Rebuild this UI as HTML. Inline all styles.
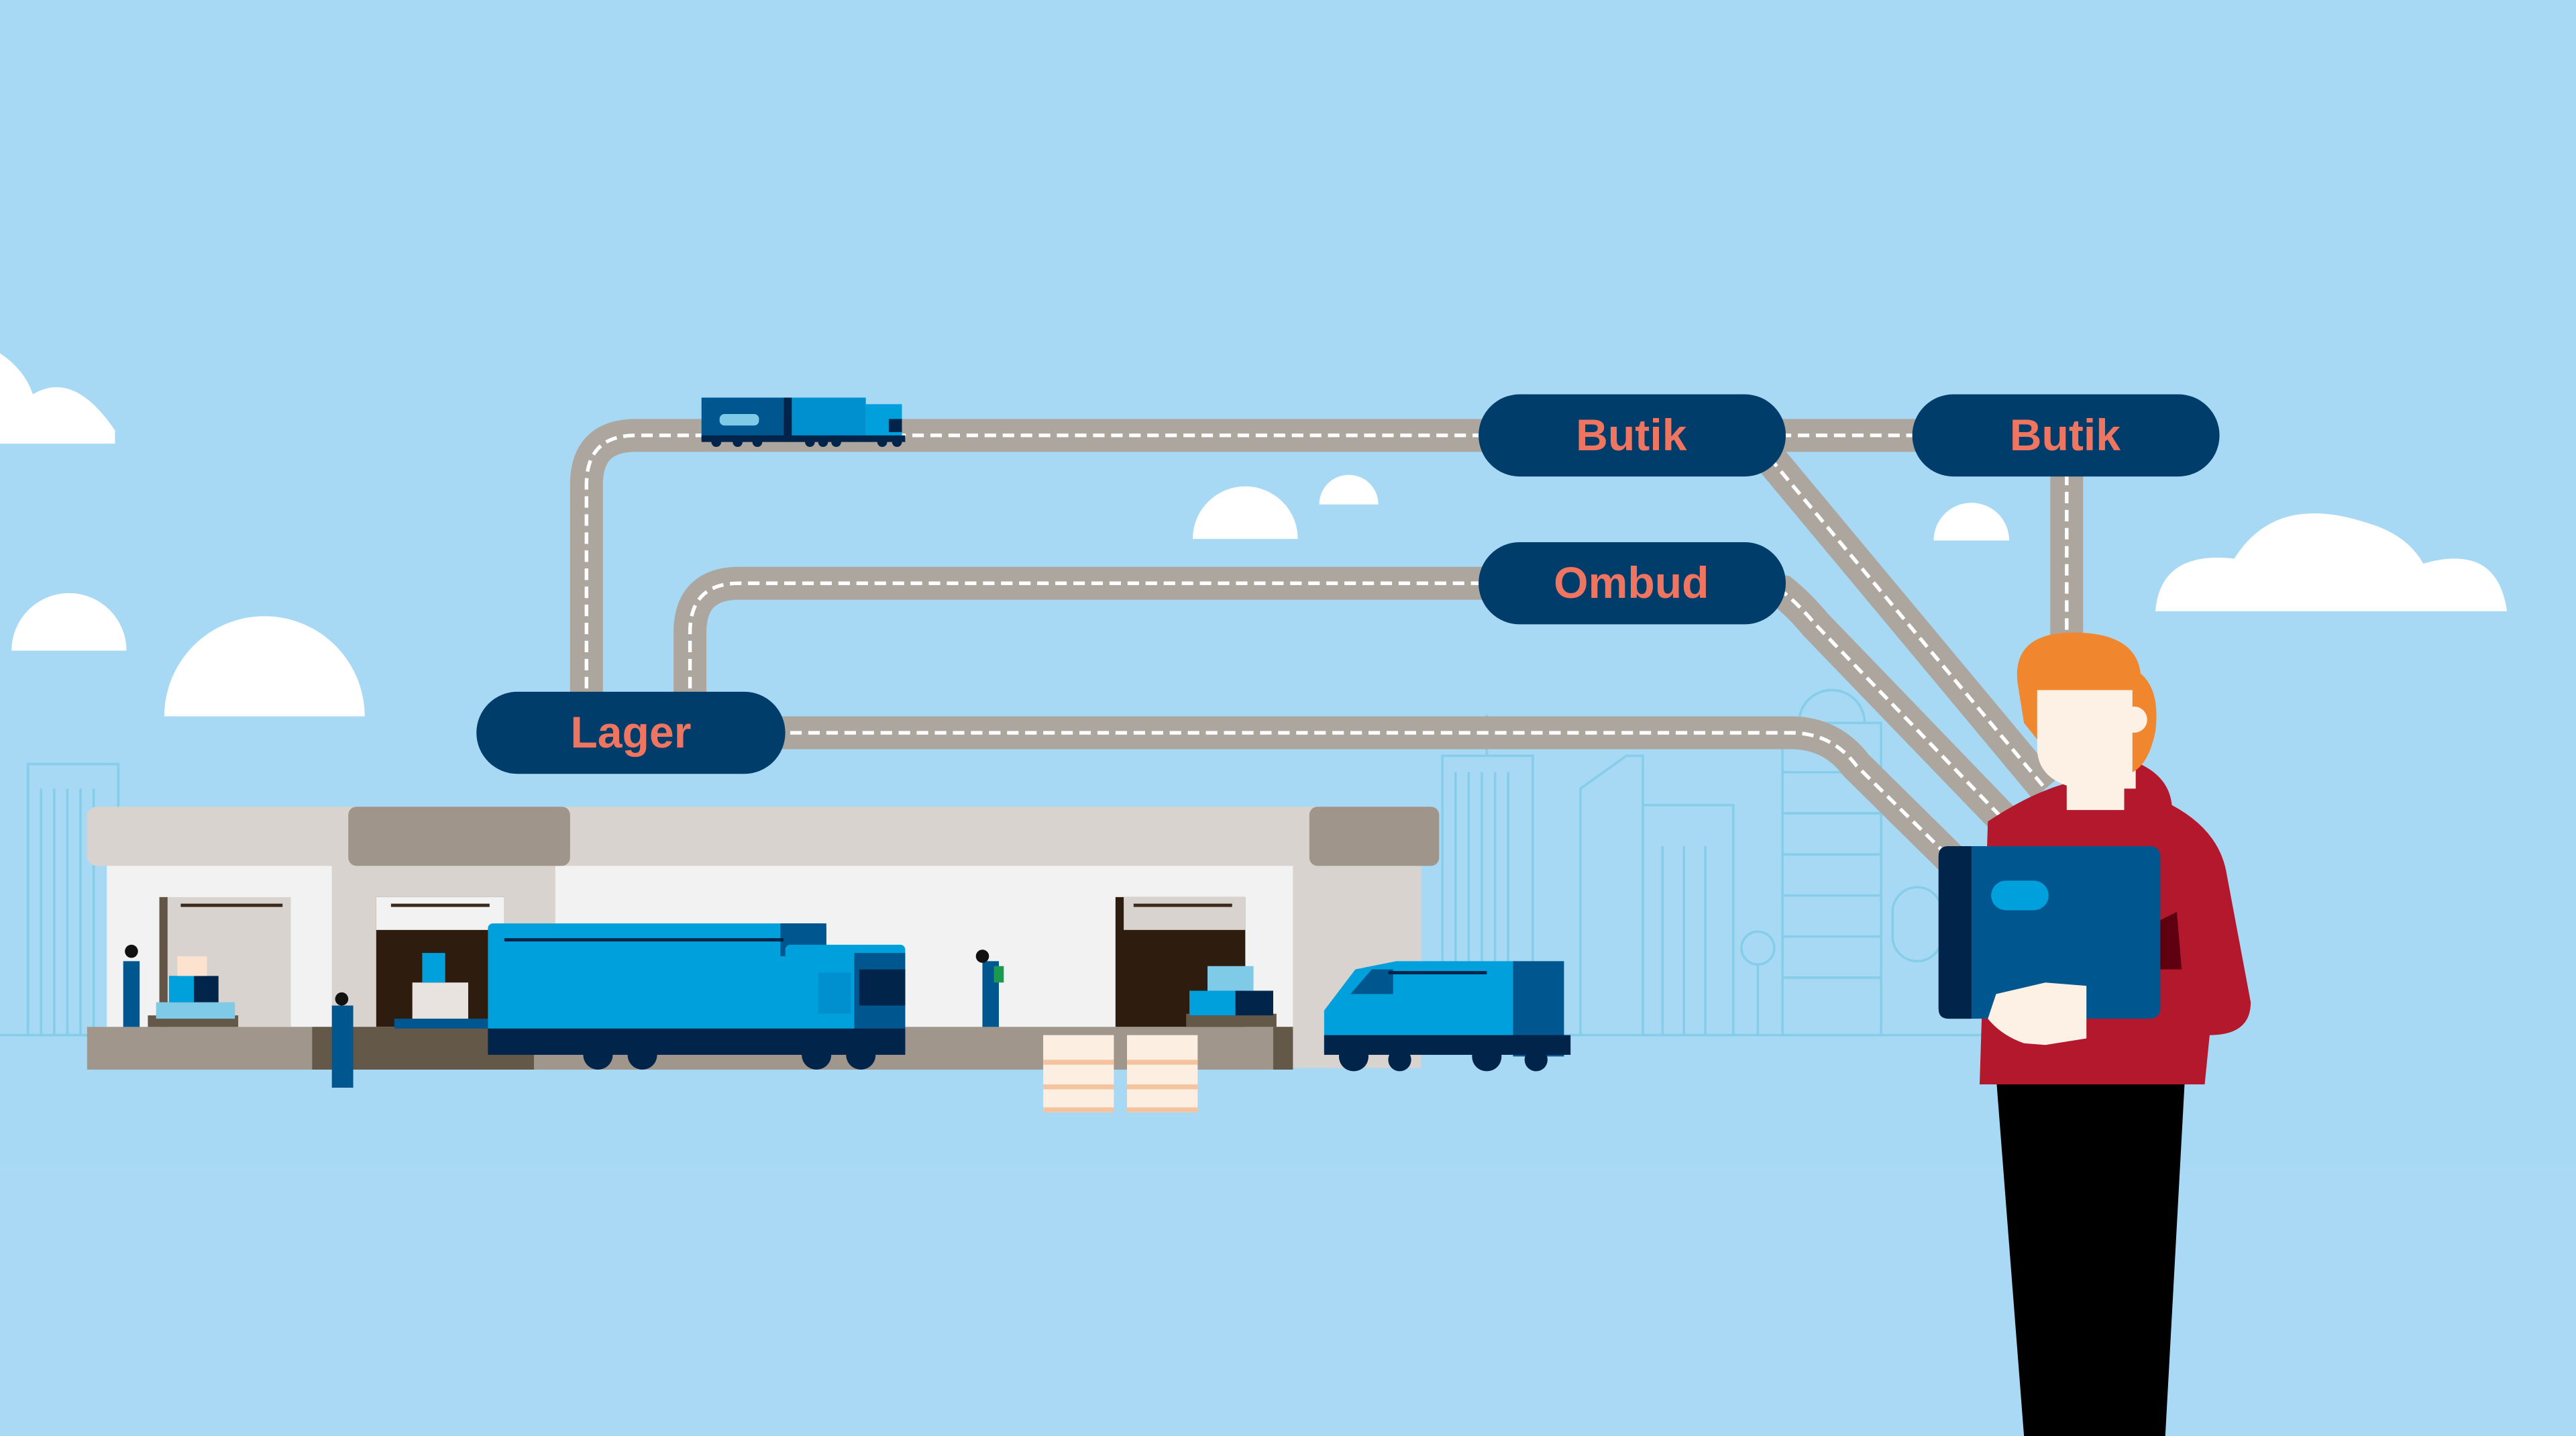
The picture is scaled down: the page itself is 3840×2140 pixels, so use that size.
<!DOCTYPE html>
<html><head><meta charset="utf-8"><style>html,body{margin:0;padding:0;background:#a7d9f4;width:3840px;height:2140px;overflow:hidden}svg{display:block}</style></head>
<body>
<svg width="3840" height="2140" viewBox="0 0 1568 874" preserveAspectRatio="none" xmlns="http://www.w3.org/2000/svg">
<rect width="1568" height="874" fill="#a7d9f4"/>
<rect y="710" width="1568" height="164" fill="#a9d9f5"/>
<!-- clouds -->
<g fill="#fff">
<path d="M0,270 L0,215 Q15,225 20,240 Q45,225 70,262 L70,270 Z"/>
<path d="M726,328 A32,32 0 0 1 790,328 Z"/>
<path d="M803,307 A18,18 0 0 1 839,307 Z"/>
<path d="M1177,329 A23,23 0 0 1 1223,329 Z"/>
<path d="M7,396 A35,35 0 0 1 77,396 Z"/>
<path d="M100,436 A61,61 0 0 1 222,436 Z"/>
<path d="M1312,372 Q1315,335 1360,340 Q1385,300 1440,318 Q1465,325 1475,343 Q1520,330 1526,372 Z"/>
</g>
<!-- skyline -->
<g fill="none" stroke="#7fcbe7" stroke-width="1.5" opacity="0.8">
<line x1="0" y1="630" x2="1250" y2="630"/>
<rect x="17" y="465" width="55" height="165"/>
<line x1="25" y1="480" x2="25" y2="630"/><line x1="33" y1="480" x2="33" y2="630"/><line x1="41" y1="480" x2="41" y2="630"/><line x1="49" y1="480" x2="49" y2="630"/><line x1="57" y1="480" x2="57" y2="630"/>
<rect x="878" y="460" width="55" height="170"/>
<line x1="886" y1="470" x2="886" y2="630"/><line x1="894" y1="470" x2="894" y2="630"/><line x1="902" y1="470" x2="902" y2="630"/><line x1="910" y1="470" x2="910" y2="630"/><line x1="918" y1="470" x2="918" y2="630"/>
<path d="M962,630 L962,480 L990,460 L1000,460 L1000,630"/>
<rect x="1000" y="490" width="55" height="140"/>
<line x1="1012" y1="515" x2="1012" y2="630"/><line x1="1025" y1="515" x2="1025" y2="630"/><line x1="1038" y1="515" x2="1038" y2="630"/>
<rect x="1085" y="440" width="60" height="190"/>
<line x1="1085" y1="470" x2="1145" y2="470"/><line x1="1085" y1="495" x2="1145" y2="495"/><line x1="1085" y1="520" x2="1145" y2="520"/><line x1="1085" y1="545" x2="1145" y2="545"/><line x1="1085" y1="570" x2="1145" y2="570"/><line x1="1085" y1="595" x2="1145" y2="595"/>
<path d="M1095,440 A20,20 0 0 1 1135,440"/>
<circle cx="1070" cy="577" r="10"/><line x1="1070" y1="587" x2="1070" y2="630"/>
<rect x="1152" y="540" width="30" height="45" rx="15"/>
<line x1="905" y1="435" x2="905" y2="460"/>
</g>
<!-- roads -->
<g fill="none" stroke="#aca69f" stroke-width="20">
<path d="M357,430 L357,295 Q357,265 387,265 L1258,265 L1258,400"/>
<path d="M420,430 L420,385 Q420,355 450,355 L950,355"/>
<path d="M470,446 L1090,446 Q1115,446 1130,466 L1205,540"/>
<path d="M1070,270 L1245,480"/>
<path d="M1060,355 L1085,360 Q1095,368 1105,380 L1240,520"/>
</g>
<g fill="none" stroke="#fff" stroke-width="2.2" stroke-dasharray="7,4">
<path d="M357,430 L357,295 Q357,265 387,265 L1258,265 L1258,400"/>
<path d="M420,430 L420,385 Q420,355 450,355 L950,355"/>
<path d="M470,446 L1090,446 Q1115,446 1130,466 L1205,540"/>
<path d="M1070,270 L1245,480"/>
<path d="M1060,355 L1085,360 Q1095,368 1105,380 L1240,520"/>
</g>
<!-- pills -->
<g fill="#003d6b">
<rect x="290" y="421" width="188" height="50" rx="25"/>
<rect x="900" y="240" width="187" height="50" rx="25"/>
<rect x="1164" y="240" width="187" height="50" rx="25"/>
<rect x="900" y="330" width="187" height="50" rx="25"/>
</g>
<g fill="#f07560" font-family="Liberation Sans, sans-serif" font-weight="bold" font-size="27" text-anchor="middle">
<text x="384" y="455">Lager</text>
<text x="993" y="274">Butik</text>
<text x="1257" y="274">Butik</text>
<text x="993" y="364">Ombud</text>
</g>
<!-- small truck -->
<rect x="427" y="242" width="50" height="26" fill="#00568f"/>
<rect x="438" y="252" width="24" height="7" rx="3" fill="#7fcbe7"/>
<rect x="477" y="242" width="5" height="26" fill="#00244a"/>
<rect x="482" y="242" width="45" height="26" fill="#0090cf"/>
<rect x="527" y="246" width="22" height="22" fill="#00a0dc"/>
<rect x="541" y="255" width="8" height="8" fill="#00244a"/>
<rect x="427" y="265" width="124" height="4" fill="#00244a"/>
<g fill="#00244a"><circle cx="436" cy="269" r="3"/><circle cx="449" cy="269" r="3"/><circle cx="461" cy="269" r="3"/><circle cx="493" cy="269" r="3"/><circle cx="501" cy="269" r="3"/><circle cx="509" cy="269" r="3"/><circle cx="537" cy="269" r="3"/><circle cx="546" cy="269" r="3"/></g>
<!-- warehouse -->
<rect x="65" y="525" width="800" height="100" fill="#f2f2f2"/>
<rect x="202" y="525" width="136" height="100" fill="#d9d3cf"/>
<rect x="787" y="525" width="78" height="125" fill="#d9d3cf"/>
<rect x="53" y="491" width="823" height="36" rx="6" fill="#d9d3cf"/>
<rect x="212" y="491" width="135" height="36" rx="5" fill="#9f958b"/>
<rect x="797" y="491" width="79" height="36" rx="5" fill="#9f958b"/>
<rect x="97" y="546" width="80" height="79" fill="#d9d3cf"/><rect x="97" y="546" width="5" height="79" fill="#635546"/>
<rect x="110" y="550" width="62" height="2" fill="#3c2a1c"/>
<rect x="229" y="546" width="78" height="79" fill="#2e1d0e"/><rect x="229" y="546" width="78" height="20" fill="#f2f2f2"/><rect x="238" y="550" width="60" height="2" fill="#3c2a1c"/>
<rect x="679" y="546" width="79" height="79" fill="#2e1d0e"/><rect x="684" y="546" width="74" height="20" fill="#d9d3cf"/><rect x="690" y="550" width="60" height="2" fill="#3c2a1c"/>
<rect x="53" y="625" width="734" height="26" fill="#a0968c"/>
<rect x="190" y="625" width="135" height="26" fill="#645849"/>
<rect x="775" y="625" width="12" height="26" fill="#645849"/>
<!-- boxes / workers -->
<rect x="90" y="618" width="55" height="7" fill="#645849"/>
<rect x="95" y="610" width="48" height="10" fill="#7fcbe7"/>
<rect x="103" y="594" width="30" height="16" fill="#00244a"/><rect x="103" y="594" width="15" height="16" fill="#00a0dc"/>
<rect x="108" y="582" width="18" height="12" fill="#fde2cf"/>
<rect x="75" y="585" width="10" height="40" fill="#00568f"/><circle cx="80" cy="579" r="4" fill="#111"/>
<rect x="202" y="612" width="13" height="50" fill="#00568f"/><circle cx="208" cy="608" r="4" fill="#111"/>
<rect x="240" y="620" width="60" height="6" fill="#00568f"/>
<rect x="251" y="598" width="34" height="22" fill="#e8e3df"/>
<rect x="257" y="580" width="14" height="18" fill="#00a0dc"/>
<rect x="598" y="585" width="10" height="40" fill="#00568f"/><circle cx="598" cy="582" r="4" fill="#111"/><rect x="605" y="588" width="6" height="10" fill="#1a9a50"/>
<rect x="722" y="617" width="55" height="8" fill="#645849"/>
<rect x="724" y="603" width="51" height="15" fill="#00244a"/><rect x="724" y="603" width="28" height="15" fill="#00a0dc"/>
<rect x="735" y="588" width="28" height="15" fill="#7fcbe7"/>
<!-- big truck -->
<rect x="297" y="562" width="206" height="66" rx="3" fill="#00a0dc"/>
<rect x="475" y="562" width="28" height="20" fill="#00568f"/>
<rect x="307" y="571" width="170" height="2" fill="#00244a"/>
<rect x="478" y="575" width="73" height="66" rx="3" fill="#00a0dc"/>
<rect x="520" y="580" width="31" height="60" fill="#00568f"/>
<rect x="523" y="590" width="28" height="22" fill="#00244a"/>
<rect x="498" y="592" width="20" height="25" fill="#0090cf"/>
<rect x="297" y="626" width="254" height="16" fill="#00244a"/>
<g fill="#00244a"><circle cx="364" cy="642" r="9"/><circle cx="391" cy="642" r="9"/><circle cx="497" cy="642" r="9"/><circle cx="524" cy="642" r="9"/></g>
<!-- pallets -->
<g fill="#fdeee2"><rect x="635" y="630" width="43" height="47"/><rect x="686" y="630" width="43" height="47"/></g>
<g fill="#f4c3a0"><rect x="635" y="645" width="43" height="3"/><rect x="686" y="645" width="43" height="3"/><rect x="635" y="660" width="43" height="3"/><rect x="686" y="660" width="43" height="3"/><rect x="635" y="674" width="43" height="3"/><rect x="686" y="674" width="43" height="3"/></g>
<!-- van -->
<path d="M806,640 L806,615 L825,590 L850,585 L922,585 L922,640 Z" fill="#00a0dc"/>
<rect x="921" y="585" width="31" height="58" fill="#00568f"/>
<path d="M822,605 L835,590 L848,590 L848,605 Z" fill="#00568f"/>
<rect x="845" y="591" width="60" height="2" fill="#00244a"/>
<rect x="806" y="630" width="150" height="12" fill="#00244a"/>
<g fill="#00244a"><circle cx="824" cy="643" r="9"/><circle cx="852" cy="645" r="7"/><circle cx="905" cy="643" r="9"/><circle cx="935" cy="645" r="7"/></g>
<!-- person -->
<path d="M1215,655 L1330,655 L1318,874 L1232,874 Z" fill="#000"/>
<path d="M1205,660 L1210,500 Q1240,480 1265,475 L1295,462 Q1320,470 1322,490 Q1350,505 1355,530 L1370,610 Q1370,630 1345,630 L1342,660 Z" fill="#b3182d"/>
<rect x="1258" y="465" width="35" height="28" fill="#fdf0e4"/>
<path d="M1240,415 L1300,415 L1300,480 L1265,480 Q1240,475 1240,455 Z" fill="#fdf0e4"/>
<path d="M1228,415 Q1225,385 1262,385 Q1300,385 1303,410 Q1315,420 1312,445 Q1308,465 1298,470 L1298,420 L1240,420 L1240,450 L1232,440 Z" fill="#f0872e"/>
<circle cx="1299" cy="438" r="8" fill="#fdf0e4"/>
<rect x="1180" y="515" width="135" height="105" rx="6" fill="#00568f"/>
<path d="M1186,515 L1200,515 L1200,620 L1186,620 Q1180,620 1180,614 L1180,521 Q1180,515 1186,515 Z" fill="#00244a"/>
<rect x="1212" y="536" width="35" height="18" rx="9" fill="#00a0dc"/>
<path d="M1315,560 L1325,555 L1328,590 L1315,590 Z" fill="#5e0010"/>
<path d="M1215,605 L1245,598 L1270,600 L1270,632 L1245,636 L1232,635 Q1218,630 1210,620 Z" fill="#fdf0e4"/>
</svg>
</body></html>
